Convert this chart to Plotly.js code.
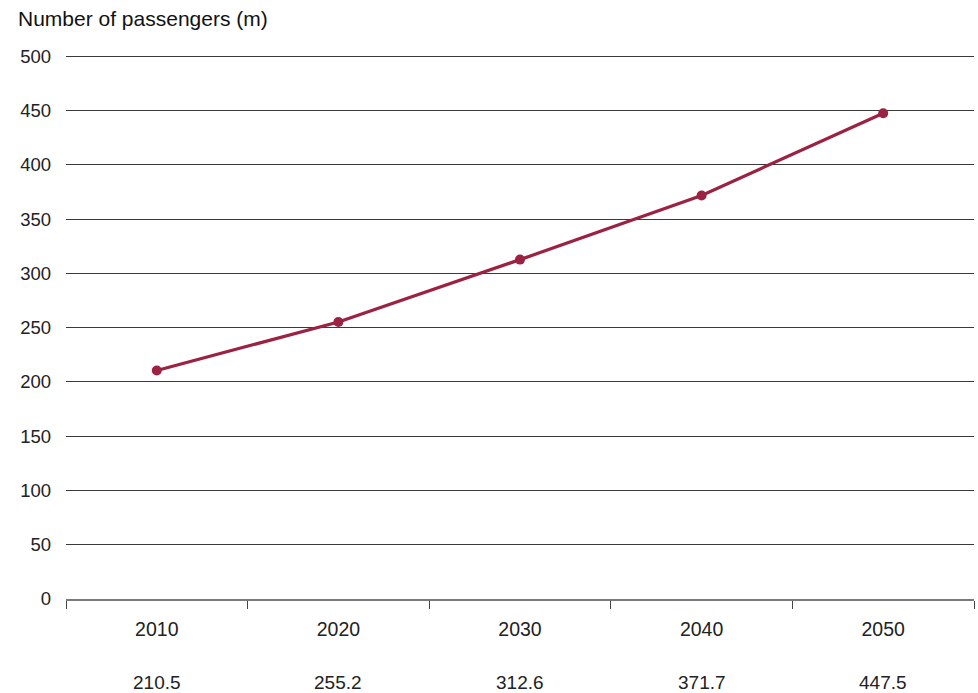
<!DOCTYPE html>
<html>
<head>
<meta charset="utf-8">
<script src="https://cdn.plot.ly/plotly-3.0.1.min.js"></script>
<style>html,body{margin:0;padding:0;background:#fff;}#chart{width:978px;height:693px;}</style>
</head>
<body>
<div id="chart"></div>
<script>
const years = ["2010", "2020", "2030", "2040", "2050"];
const passengers = [210.5, 255.2, 312.6, 371.7, 447.5];
const valueLabels = ["210.5", "255.2", "312.6", "371.7", "447.5"];
const yTicks = [0, 50, 100, 150, 200, 250, 300, 350, 400, 450, 500];

const FONT = "Liberation Sans, Arial, Helvetica, sans-serif";
const lineColor = "#9b2242";

const trace = {
  type: "scatter",
  mode: "lines+markers",
  x: years,
  y: passengers,
  line: {color: lineColor, width: 3.2},
  marker: {color: lineColor, size: 10},
  hoverinfo: "x+y"
};

const annotations = valueLabels.map((lbl, i) => ({
  x: i, xref: "x",
  y: 0, yref: "paper",
  yanchor: "middle",
  yshift: -83,
  text: lbl,
  showarrow: false,
  font: {family: FONT, size: 19, color: "#222"}
}));

const layout = {
  width: 978, height: 693,
  margin: {l: 66, r: 4, t: 54, b: 94},
  paper_bgcolor: "#fff", plot_bgcolor: "#fff",
  showlegend: false,
  font: {family: FONT, size: 18, color: "#222"},
  title: {
    text: "Number of passengers (m)",
    x: 18/978, xref: "container", xanchor: "left",
    y: 1 - 19/693, yref: "container", yanchor: "middle",
    font: {family: FONT, size: 21, color: "#111"}
  },
  xaxis: {
    type: "category",
    range: [-0.5, 4.5],
    tickson: "boundaries",
    ticks: "outside", ticklen: 8, tickwidth: 1, tickcolor: "#444",
    showline: true, linecolor: "#7a7a7a", linewidth: 2,
    showgrid: false, zeroline: false,
    tickfont: {family: FONT, size: 19.5, color: "#222"},
    ticklabelstandoff: 12,
    fixedrange: true
  },
  yaxis: {
    range: [0, 502],
    tickmode: "array", tickvals: yTicks,
    ticktext: yTicks.map(String),
    showgrid: true, gridcolor: "#3a3a3a", gridwidth: 1,
    zeroline: false, showline: false, ticks: "",
    ticklabelstandoff: 14,
    tickfont: {family: FONT, size: 18.5, color: "#222"},
    fixedrange: true
  },
  annotations: annotations
};

Plotly.newPlot("chart", [trace], layout, {displayModeBar: false, staticPlot: true});
</script>
</body>
</html>
